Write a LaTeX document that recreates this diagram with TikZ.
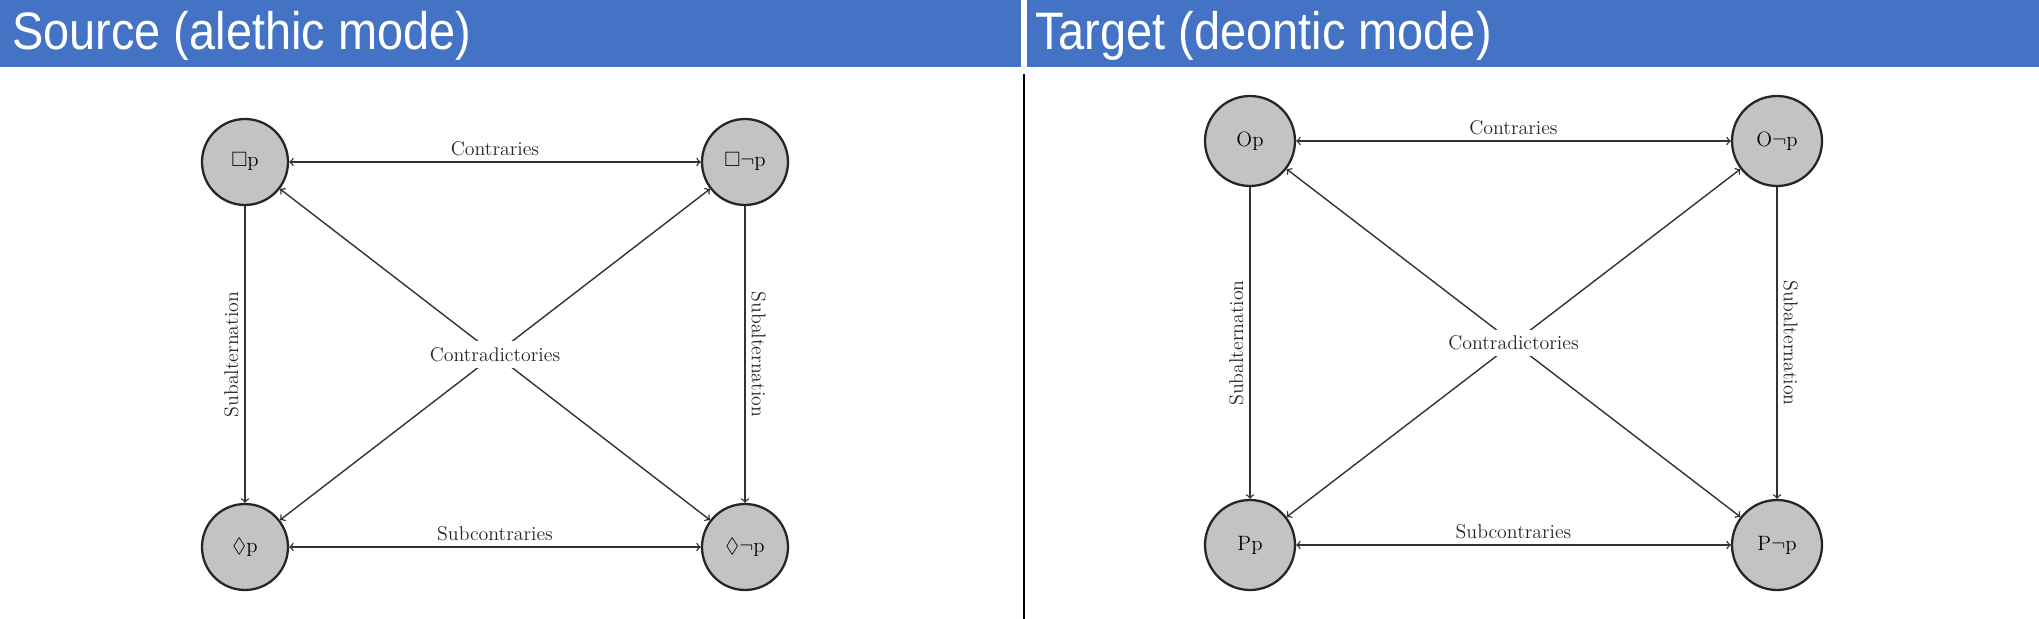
\documentclass[tikz,border=0pt]{standalone}
\usepackage{amssymb}
\usepackage{fontspec}
\newfontfamily\headfont{Liberation Sans}
\usetikzlibrary{positioning}
\definecolor{bannerBlue}{HTML}{4472C4}
\definecolor{nodeGray}{HTML}{C3C3C3}
\definecolor{lineGray}{HTML}{333333}
\tikzset{mycirc/.style={circle, draw=black!85, line width=1.3pt, fill=nodeGray, minimum size=17.2mm, inner sep=0pt, font=\fontsize{11.8}{13}\selectfont}}
\tikzset{mycircBig/.style={mycirc, minimum size=18mm}}
\tikzset{relLabel/.style={font=\fontsize{11.3}{13}\selectfont, text=black!85}}
\tikzset{relArrow/.style={draw=lineGray, line width=0.8pt}}
\tikzset{headText/.style={font=\headfont\fontsize{30}{34}\selectfont, text=white, anchor=west, xscale=0.89, inner sep=0pt}}

\begin{document}
\begin{tikzpicture}[x=0.2mm, y=-0.2mm]
\useasboundingbox (0,0) rectangle (2039,619);

% title bars
\fill[bannerBlue] (0,0) rectangle (1021,67);
\fill[bannerBlue] (1027,0) rectangle (2039,67);
\node[headText] (srcHead) at (12,36) {Source (alethic mode)};
\node[headText] (tgtHead) at (1035,36) {Target (deontic mode)};
\draw[line width=0.4mm] (1024,74) -- (1024,619);

% alethic square
\node[mycirc] (nec) at (245,162) {$\Box$p};
\node[mycirc] (necNot) at (745,162) {$\Box\neg$p};
\node[mycirc] (pos) at (245,547) {$\Diamond$p};
\node[mycirc] (posNot) at (745,547) {$\Diamond\neg$p};

\draw[relArrow, <->] (nec) -- node[relLabel, above] {Contraries} (necNot);
\draw[relArrow, <->] (pos) -- node[relLabel, above] {Subcontraries} (posNot);
\draw[relArrow, ->] (nec) -- node[relLabel, rotate=90, anchor=south] {Subalternation} (pos);
\draw[relArrow, ->] (necNot) -- node[relLabel, rotate=-90, anchor=south] {Subalternation} (posNot);
\draw[relArrow, <->] (nec) -- (posNot);
\draw[relArrow, <->] (necNot) -- node[relLabel, fill=white] {Contradictories} (pos);

% deontic square
\node[mycircBig] (obl) at (1250,141) {Op};
\node[mycircBig] (oblNot) at (1777,141) {O$\neg$p};
\node[mycircBig] (perm) at (1250,545) {Pp};
\node[mycircBig] (permNot) at (1777,545) {P$\neg$p};

\draw[relArrow, <->] (obl) -- node[relLabel, above] {Contraries} (oblNot);
\draw[relArrow, <->] (perm) -- node[relLabel, above] {Subcontraries} (permNot);
\draw[relArrow, ->] (obl) -- node[relLabel, rotate=90, anchor=south] {Subalternation} (perm);
\draw[relArrow, ->] (oblNot) -- node[relLabel, rotate=-90, anchor=south] {Subalternation} (permNot);
\draw[relArrow, <->] (obl) -- (permNot);
\draw[relArrow, <->] (oblNot) -- node[relLabel, fill=white] {Contradictories} (perm);

\end{tikzpicture}
\end{document}
